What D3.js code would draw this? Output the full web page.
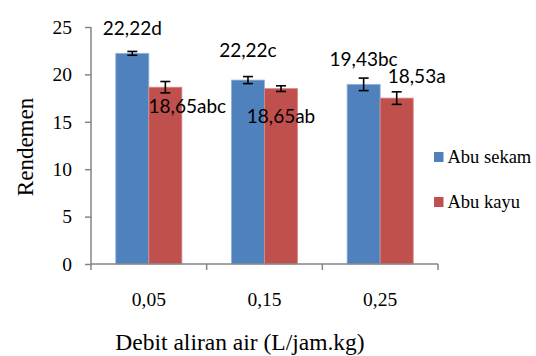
<!DOCTYPE html>
<html>
<head>
<meta charset="utf-8">
<script src="https://cdn.jsdelivr.net/npm/d3@7"></script>
<style>
  html, body { margin: 0; padding: 0; background: #fff; }
  svg { display: block; }
</style>
</head>
<body>
<div id="chart"></div>
<script>
const categories = ['0,05', '0,15', '0,25'];
const series = ['Abu sekam', 'Abu kayu'];
const sekamValues = [22.22, 19.4, 18.95];
const kayuValues = [18.65, 18.5, 17.5];
const sekamErrors = [0.2, 0.37, 0.66];
const kayuErrors = [0.6, 0.3, 0.66];
const sekamLabels = ['22,22d', '22,22c', '19,43bc'];
const kayuLabels = ['18,65abc', '18,65ab', '18,53a'];
const yTicks = [0, 5, 10, 15, 20, 25];

const colors = ['#4F81BD', '#C0504D'];
const strokes = ['#8fb0dc', '#d98a88'];
// hand placed label offsets (px) from bar centre / bar top, as in the source
const labelOffsets = [
    [[0, -18], [22, 26]],
    [[0, -23], [0, 34]],
    [[0, -18], [20, -15]]
];

const width = 536, height = 356;
const plot = {left: 91, right: 438, top: 27, bottom: 264};
const axisColor = '#868686';
const serif = '"Liberation Serif", "Times New Roman", serif';

const svg = d3.select('#chart').append('svg')
    .attr('width', width)
    .attr('height', height);

const x0 = d3.scaleBand()
    .domain(categories)
    .range([plot.left, plot.right])
    .padding(0);

const x1 = d3.scaleBand()
    .domain(series)
    .range([0, x0.bandwidth()])
    .paddingInner(0)
    .paddingOuter(0.75);

const y = d3.scaleLinear()
    .domain([0, 25])
    .range([plot.bottom, plot.top]);

const rows = categories.map((c, i) => ({
    cat: c,
    bars: [
        {s: series[0], v: sekamValues[i], e: sekamErrors[i], label: sekamLabels[i], off: labelOffsets[i][0], k: 0},
        {s: series[1], v: kayuValues[i], e: kayuErrors[i], label: kayuLabels[i], off: labelOffsets[i][1], k: 1}
    ]
}));

// bars
const groups = svg.selectAll('g.grp')
    .data(rows)
    .join('g')
    .attr('class', 'grp')
    .attr('transform', d => `translate(${x0(d.cat)},0)`);

groups.selectAll('rect')
    .data(d => d.bars)
    .join('rect')
    .attr('x', d => x1(d.s))
    .attr('y', d => y(d.v))
    .attr('width', x1.bandwidth())
    .attr('height', d => y(0) - y(d.v))
    .attr('fill', d => colors[d.k])
    .attr('stroke', d => strokes[d.k])
    .attr('stroke-width', 0.8);

// axes
const yAxis = d3.axisLeft(y).tickValues(yTicks).tickSize(6).tickPadding(13).tickFormat(d3.format('d'));
const gy = svg.append('g')
    .attr('transform', `translate(${plot.left},0)`)
    .call(yAxis)
    .attr('font-family', serif)
    .attr('font-size', 19.5);
gy.select('.domain').attr('d', `M0,${plot.top}V${plot.bottom}`);

const gx = svg.append('g')
    .attr('transform', `translate(0,${plot.bottom})`)
    .call(d3.axisBottom(x0).tickSize(0).tickPadding(28))
    .attr('font-family', serif)
    .attr('font-size', 19.5);
gx.select('.domain').attr('d', `M${plot.left},0H${plot.right}`);

// category boundary ticks
const bounds = categories.map(c => x0(c)).concat([x0.range()[1]]);
gx.selectAll('line.bnd')
    .data(bounds)
    .join('line')
    .attr('class', 'bnd')
    .attr('x1', d => d).attr('x2', d => d)
    .attr('y1', 0).attr('y2', 6);

svg.selectAll('.domain, .tick line, line.bnd')
    .attr('stroke', axisColor)
    .attr('stroke-width', 1.5);
svg.selectAll('.tick text').attr('fill', '#000');

// error bars
const errG = groups.selectAll('g.err')
    .data(d => d.bars)
    .join('g')
    .attr('class', 'err')
    .attr('transform', d => `translate(${x1(d.s) + x1.bandwidth() / 2},0)`)
    .attr('stroke', '#000')
    .attr('stroke-width', 1.6);
errG.append('line')
    .attr('x1', 0).attr('x2', 0)
    .attr('y1', d => y(d.v + d.e)).attr('y2', d => y(d.v - d.e));
errG.append('line')
    .attr('x1', -5).attr('x2', 5)
    .attr('y1', d => y(d.v + d.e)).attr('y2', d => y(d.v + d.e));
errG.append('line')
    .attr('x1', -5).attr('x2', 5)
    .attr('y1', d => y(d.v - d.e)).attr('y2', d => y(d.v - d.e));

// value labels
groups.selectAll('text.val')
    .data(d => d.bars)
    .join('text')
    .attr('class', 'val')
    .attr('x', d => x1(d.s) + x1.bandwidth() / 2 + d.off[0])
    .attr('y', d => y(d.v) + d.off[1])
    .attr('text-anchor', 'middle')
    .style('font-family', 'Lato, "Open Sans", sans-serif')
    .style('font-size', '19px')
    .attr('fill', '#000')
    .text(d => d.label);

// axis titles
svg.append('text')
    .attr('transform', 'translate(33,147) rotate(-90)')
    .attr('text-anchor', 'middle')
    .style('font-family', serif)
    .style('font-size', '23px')
    .text('Rendemen');

svg.append('text')
    .attr('x', 240)
    .attr('y', 350)
    .attr('text-anchor', 'middle')
    .style('font-family', serif)
    .style('font-size', '23.5px')
    .text('Debit aliran air (L/jam.kg)');

// legend
const legend = svg.append('g')
    .attr('transform', 'translate(434,152)');
const li = legend.selectAll('g')
    .data(series)
    .join('g')
    .attr('transform', (d, i) => `translate(0,${i * 45})`);
li.append('rect')
    .attr('width', 9.5).attr('height', 10)
    .attr('fill', (d, i) => colors[i]);
li.append('text')
    .attr('x', 13.5)
    .attr('y', 11)
    .style('font-family', serif)
    .style('font-size', '18.5px')
    .text(d => d);
</script>
</body>
</html>
